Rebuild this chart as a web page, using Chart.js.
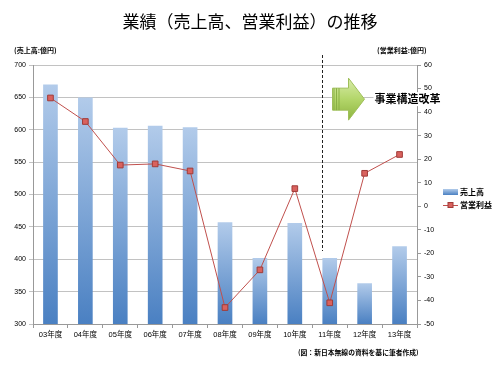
<!DOCTYPE html>
<html>
<head>
<meta charset="utf-8">
<script src="https://cdn.jsdelivr.net/npm/chart.js@4"></script>
<style>
  html, body { margin: 0; padding: 0; background: #fff; }
  canvas { display: block; }
</style>
</head>
<body>
<canvas id="chart" width="500" height="368"></canvas>
<script>
// 年度ラベル
const categories = ['03年度', '04年度', '05年度', '06年度', '07年度', '08年度', '09年度', '10年度', '11年度', '12年度', '13年度'];
// 売上高（億円）
const sales = [670, 650, 603, 606, 604, 457, 402, 456, 402, 363, 420];
// 営業利益（億円）
const profit = [46, 36, 17.5, 18, 15, -43, -27, 7.5, -41, 14, 22];
// 軸の範囲
const salesAxis = { min: 300, max: 700, step: 50 };
const profitAxis = { min: -50, max: 60, step: 10 };

const FONT = '"Liberation Sans", "Noto Sans CJK JP", sans-serif';
const JP = '"Noto Sans CJK JP", sans-serif';

function barGradient(ctx, top, bottom) {
  const g = ctx.createLinearGradient(0, top, 0, bottom);
  g.addColorStop(0, '#b2cbea');
  g.addColorStop(1, '#4a80c2');
  return g;
}

// タイトル・注記・凡例・矢印など
const decorations = {
  id: 'decorations',
  afterDraw(chart) {
    const { ctx, chartArea, scales } = chart;
    const bars = chart.getDatasetMeta(0).data;
    ctx.save();

    // タイトル
    ctx.fillStyle = '#000';
    ctx.textAlign = 'center';
    ctx.textBaseline = 'middle';
    ctx.font = '17px ' + JP;
    ctx.fillText('業績（売上高、営業利益）の推移', 250, 22);

    // 軸タイトル
    ctx.font = 'bold 7px ' + JP;
    ctx.textAlign = 'left';
    ctx.fillText('(売上高:億円)', 14, 50);
    ctx.fillText('(営業利益:億円)', 377, 50);

    // 出典
    ctx.font = 'bold 6.8px ' + JP;
    ctx.fillText('(図：新日本無線の資料を基に筆者作成)', 298, 352);

    // 11年度の区切り線
    const b11 = bars[8];
    const dx = Math.round(b11.x - b11.width / 2) + 0.5;
    ctx.strokeStyle = '#222';
    ctx.lineWidth = 1;
    ctx.setLineDash([3, 2]);
    ctx.beginPath();
    ctx.moveTo(dx, chartArea.top - 10);
    ctx.lineTo(dx, scales.y1.getPixelForValue(-19));
    ctx.stroke();
    ctx.setLineDash([]);

    // 矢印
    const ay = scales.y1.getPixelForValue(45.5);
    const ax = dx + 10;
    const g = ctx.createLinearGradient(0, ay - 21, 0, ay + 21);
    g.addColorStop(0, '#d9ecaa');
    g.addColorStop(0.5, '#b3d66a');
    g.addColorStop(1, '#8db43f');
    ctx.fillStyle = g;
    ctx.strokeStyle = '#9fbf5a';
    ctx.beginPath();
    ctx.moveTo(ax, ay - 11);
    ctx.lineTo(ax + 16, ay - 11);
    ctx.lineTo(ax + 16, ay - 21);
    ctx.lineTo(ax + 32, ay);
    ctx.lineTo(ax + 16, ay + 21);
    ctx.lineTo(ax + 16, ay + 11);
    ctx.lineTo(ax, ay + 11);
    ctx.closePath();
    ctx.fill();
    ctx.stroke();
    ctx.fillStyle = '#8aaf45';
    [1, 3.5, 6].forEach(o => ctx.fillRect(ax + o, ay - 11, 1, 22));

    // 事業構造改革
    ctx.font = 'bold 11px ' + JP;
    const label = '事業構造改革';
    const tw = ctx.measureText(label).width;
    ctx.fillStyle = '#fff';
    ctx.fillRect(ax + 41, ay - 7, tw + 2, 14);
    ctx.fillStyle = '#000';
    ctx.textAlign = 'left';
    ctx.fillText(label, ax + 42, ay);

    // 凡例
    const lx = 443, ly1 = 192, ly2 = 205;
    ctx.fillStyle = barGradient(ctx, ly1 - 3, ly1 + 3);
    ctx.fillRect(lx, ly1 - 3, 15, 6);
    ctx.strokeStyle = '#c0504d';
    ctx.beginPath();
    ctx.moveTo(lx, ly2 + 0.5);
    ctx.lineTo(lx + 15, ly2 + 0.5);
    ctx.stroke();
    ctx.fillStyle = '#d9625e';
    ctx.strokeStyle = '#a03b38';
    ctx.fillRect(lx + 5, ly2 - 2.5, 5, 5);
    ctx.strokeRect(lx + 5, ly2 - 2.5, 5, 5);
    ctx.fillStyle = '#000';
    ctx.font = 'bold 8px ' + JP;
    ctx.fillText('売上高', lx + 17, ly1);
    ctx.fillText('営業利益', lx + 17, ly2);

    ctx.restore();
  }
};

const tickFont = { family: FONT, size: 7 };

new Chart(document.getElementById('chart'), {
  data: {
    labels: categories,
    datasets: [
      {
        type: 'bar',
        label: '売上高',
        data: sales,
        yAxisID: 'y',
        order: 2,
        barPercentage: 0.42,
        categoryPercentage: 1,
        backgroundColor: c => {
          const chart = c.chart;
          if (!chart.chartArea || c.type !== 'data') return '#7aa5d8';
          const top = chart.scales.y.getPixelForValue(c.raw);
          return barGradient(chart.ctx, top, chart.chartArea.bottom);
        }
      },
      {
        type: 'line',
        label: '営業利益',
        data: profit,
        yAxisID: 'y1',
        order: 1,
        borderColor: '#c0504d',
        borderWidth: 1,
        tension: 0,
        pointStyle: 'rect',
        pointRadius: 4,
        pointBackgroundColor: '#d9625e',
        pointBorderColor: '#a03b38',
        pointBorderWidth: 1
      }
    ]
  },
  options: {
    responsive: false,
    animation: false,
    devicePixelRatio: 1,
    layout: { padding: { top: 65, left: 0, right: 0, bottom: 0 } },
    plugins: {
      legend: { display: false },
      title: { display: false },
      tooltip: { enabled: false }
    },
    scales: {
      x: {
        grid: { offset: true, drawOnChartArea: false, tickLength: 4, color: '#999' },
        border: { color: '#999' },
        ticks: { font: { family: FONT, size: 7.5 }, color: '#000', padding: 2 },
        afterFit: s => { s.height = 44; }
      },
      y: {
        position: 'left',
        min: salesAxis.min,
        max: salesAxis.max,
        ticks: { stepSize: salesAxis.step, font: tickFont, color: '#000', padding: 3 },
        grid: { color: '#c2c2c2', tickLength: 4 },
        border: { color: '#999' },
        afterFit: s => { s.width = 33; }
      },
      y1: {
        position: 'right',
        min: profitAxis.min,
        max: profitAxis.max,
        ticks: { stepSize: profitAxis.step, font: tickFont, color: '#000', padding: 3 },
        grid: { drawOnChartArea: false, tickLength: 4, color: '#999' },
        border: { color: '#999' },
        afterFit: s => { s.width = 83; }
      }
    }
  },
  plugins: [decorations]
});
</script>
</body>
</html>
